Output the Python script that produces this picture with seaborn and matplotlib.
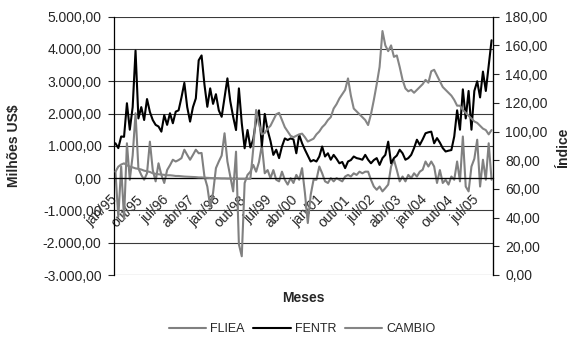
import matplotlib
matplotlib.use("Agg")
import matplotlib.pyplot as plt
import matplotlib.ticker as mticker
import matplotlib.transforms as mtrans
import pandas as pd
import seaborn as sns

sns.set_style("white")
plt.rcParams["font.family"] = ["Liberation Sans", "DejaVu Sans"]

# meses jan/95 .. dez/05
nomes = ["jan", "fev", "mar", "abr", "mai", "jun", "jul", "ago", "set", "out", "nov", "dez"]
meses = [f"{m}/{a % 100:02d}" for a in range(1995, 2006) for m in nomes]

# Milhões US$ (eixo esquerdo)
fentr = [1080, 930, 1290, 1280, 2320, 1500, 2200, 3950, 1850, 2200, 1800, 2450,
         2050, 1800, 1650, 1600, 1440, 1950, 1650, 2010, 1700, 2060, 2100, 2500,
         2950, 2200, 1750, 2200, 2470, 3650, 3800, 2900, 2210, 2780, 2300, 2600,
         2100, 1900, 2500, 3090, 2380, 1900, 1490, 2780, 1700, 925, 1490, 950,
         1200, 1800, 2100, 980, 1990, 1490, 1150, 720, 880, 620, 980, 1230,
         1180, 1230, 1200, 770, 1340, 1080, 880, 700, 515, 560, 515, 670,
         980, 670, 770, 570, 720, 600, 460, 500, 310, 515, 560, 670,
         620, 600, 570, 720, 570, 460, 560, 620, 410, 620, 720, 1130,
         460, 620, 700, 880, 770, 570, 620, 720, 930, 1190, 1030, 1200,
         1390, 1420, 1440, 1080, 1240, 1100, 930, 825, 850, 870, 1290, 2100,
         1500, 2750, 1850, 2700, 1500, 2700, 3000, 2500, 3300, 2700, 3500, 4270]

fliea = [200, -1200, 360, -1250, 1080, -50, 700, 2010, 300, 100, -50, 150,
         1130, 250, -100, 460, 100, -150, 250, 400, 570, 515, 560, 620,
         880, 720, 570, 720, 880, 770, 780, 50, -260, -880, -460, 310,
         515, 700, 1390, 515, 50, -410, 820, -2050, -2420, -150, 100, 200,
         410, 200, 500, 1030, 150, 250, 0, 250, -50, -100, 200, -50,
         -200, 0, -150, 100, -50, 310, -460, -1390, -520, -50, -50, 360,
         150, -100, -150, 0, -100, 0, -50, -100, 50, 100, 50, 150,
         100, 200, 150, 200, 200, -50, -260, -360, -260, -410, -310, -200,
         360, 570, 250, -100, 50, -100, 100, 0, 150, 50, 200, 260,
         515, 360, 515, 360, -150, 250, -150, -50, -200, 50, -50, 515,
         -100, 1290, -260, -410, 360, 600, 1190, -260, 570, -50, 1080, -50]

# Índice (eixo direito)
cambio = [72, 75.5, 77, 77.8, 76.5, 75.5, 75, 74.3, 74, 73.5, 72.7, 72.3,
          71.8, 70.9, 70.5, 70.2, 70, 69.8, 69.5, 69.5, 69.3, 69, 69, 68.8,
          68.6, 68.5, 68.4, 68.3, 68.2, 68, 68, 67.8, 67.7, 67.6, 67.5, 67.5,
          67.4, 67.3, 67.3, 67.2, 67.2, 67.1, 67, 67, 67, 67, 67, 67,
          88, 115, 105, 98, 99, 102, 104, 108, 112, 113, 108, 103,
          100, 97, 96, 97, 98, 98.5, 96, 93, 94, 95, 98, 100,
          103, 105, 108, 110, 116, 119, 123, 126, 129, 137, 125, 116,
          114, 112, 110, 108, 104.5, 112, 122, 133, 145, 170, 160, 156,
          160, 152, 153, 145, 136, 130, 128, 129, 127, 129, 131, 133,
          136, 134, 142, 143, 139, 135, 131, 129, 127, 125, 122, 118,
          118, 115, 113, 111, 109, 107, 106, 104, 102, 101, 98, 101]

df = pd.DataFrame({"mes": range(len(meses)), "FLIEA": fliea, "FENTR": fentr, "CAMBIO": cambio})
cinza = "#808080"

fig = plt.figure(figsize=(5.76, 3.38), dpi=100)
ax = fig.add_axes([114 / 576, 1 - 275 / 338, 379 / 576, 258.3 / 338])
ax2 = ax.twinx()

sns.lineplot(data=df, x="mes", y="FLIEA", ax=ax, color=cinza, lw=1.5, label="FLIEA")
sns.lineplot(data=df, x="mes", y="FENTR", ax=ax, color="black", lw=1.5, label="FENTR")
sns.lineplot(data=df, x="mes", y="CAMBIO", ax=ax2, color="#858585", lw=1.5, label="CAMBIO")

h1, l1 = ax.get_legend_handles_labels()
h2, l2 = ax2.get_legend_handles_labels()
ax.get_legend().remove()
ax2.get_legend().remove()

def br(v, pos):
    s = f"{v:,.2f}"
    return s.replace(",", "X").replace(".", ",").replace("X", ".")

ax.set_xlim(-0.5, len(meses) - 0.5)
ax.set_ylim(-3000, 5000)
ax.set_yticks(range(-3000, 5001, 1000))
ax.yaxis.set_major_formatter(mticker.FuncFormatter(br))
ax2.set_ylim(0, 180)
ax2.set_yticks(range(0, 181, 20))
ax2.yaxis.set_major_formatter(mticker.FuncFormatter(lambda v, p: f"{v:.2f}".replace(".", ",")))

ax.yaxis.grid(True, color="#3a3a3a", lw=0.8)
ax.set_axisbelow(True)
ax2.grid(False)

ax.spines["top"].set_visible(False)
ax2.spines["top"].set_visible(False)
ax2.spines["bottom"].set_visible(False)
ax.spines["bottom"].set_position(("data", 0))
for sp in ["left", "bottom"]:
    ax.spines[sp].set_color("black")
    ax.spines[sp].set_linewidth(0.9)
ax2.spines["right"].set_color("black")
ax2.spines["right"].set_linewidth(0.9)
ax2.spines["left"].set_visible(False)

ax.set_xticks(range(len(meses)))
ax.set_xticklabels([m if i % 9 == 0 else "" for i, m in enumerate(meses)],
                   rotation=45, ha="right", va="top", rotation_mode="anchor", fontsize=10)
ax.tick_params(axis="x", direction="inout", length=5, width=0.7, pad=8, color="black")
ax.tick_params(axis="y", direction="out", length=4, width=0.8, pad=5, labelsize=10, left=True)
ax2.tick_params(axis="y", direction="out", length=4, width=0.8, pad=5, labelsize=10, right=True)

# rótulos do eixo x um pouco à esquerda, como no Excel
shift = mtrans.ScaledTranslation(-4 / 72, 0, fig.dpi_scale_trans)
for lab in ax.get_xticklabels():
    lab.set_transform(lab.get_transform() + shift)

ax.set_xlabel("")
ax.set_ylabel("")
ax2.set_ylabel("")
fig.text(14 / 576, 1 - 146 / 338, "Milhões US$", rotation=90, ha="center", va="center",
         fontsize=10, fontweight="bold")
fig.text(563 / 576, 1 - 148 / 338, "Índice", rotation=90, ha="center", va="center",
         fontsize=10, fontweight="bold")
fig.text(303 / 576, 1 - 298 / 338, "Meses", ha="center", va="center",
         fontsize=10, fontweight="bold")

fig.legend(h1 + h2, l1 + l2, loc="center", bbox_to_anchor=(302 / 576, 1 - 329 / 338),
           ncol=3, frameon=False, fontsize=9, handlelength=3.0, handletextpad=0.3,
           columnspacing=0.7)

fig.savefig("out.png", dpi=100)
